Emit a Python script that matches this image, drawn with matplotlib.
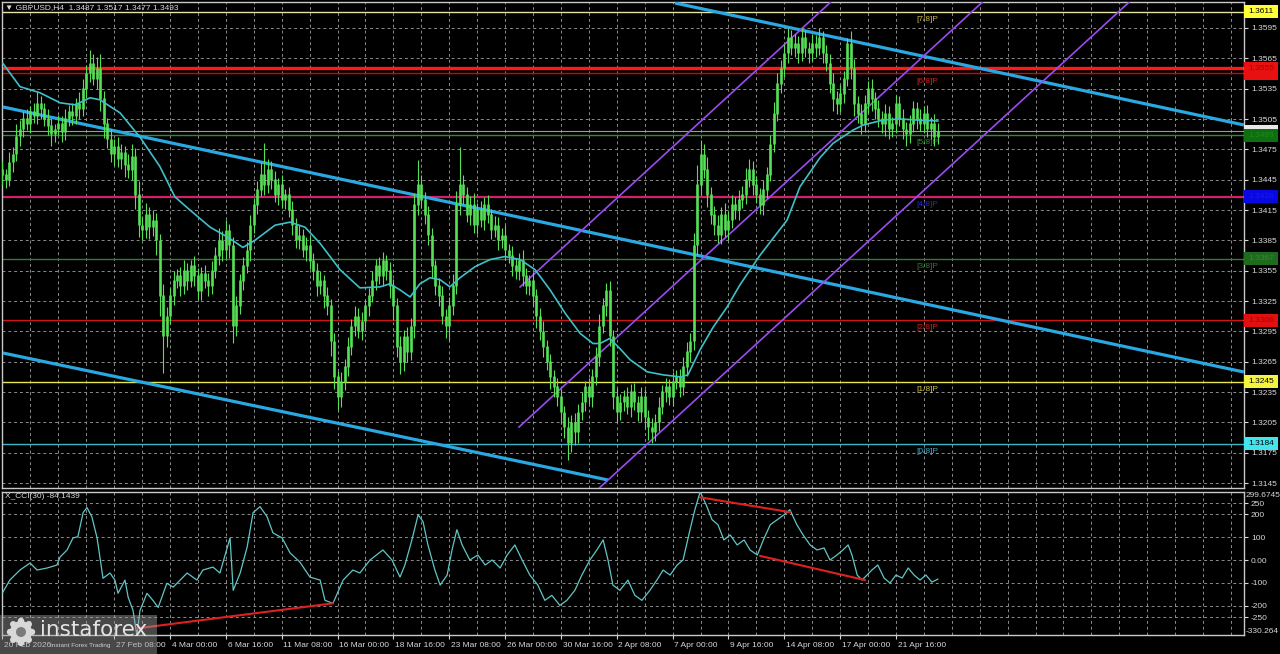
import matplotlib
matplotlib.use('Agg')
import math
import matplotlib.pyplot as plt
import matplotlib.transforms as mtransforms
from matplotlib.patches import Rectangle, Circle

FONT = ['Liberation Sans', 'DejaVu Sans']
plt.rcParams['font.family'] = FONT

# ---------------- data (prices in pips: 3493 -> 1.3493) ----------------
symbol_title = "\u25bc GBPUSD,H4  1.3487 1.3517 1.3477 1.3493"
cci_title = "X_CCI(30) -84.1439"

first_open = 3455
closes = [3450, 3445, 3462,
          3470, 3488, 3495, 3505, 3500,
          3512, 3508, 3520, 3515,
          3505, 3498, 3490, 3495, 3500, 3492,
          3505, 3512, 3508, 3520, 3515,
          3535, 3550, 3560, 3545, 3555,
          3525, 3500, 3485,
          3470, 3478, 3465, 3472, 3460, 3455, 3468,
          3430, 3400, 3395,
          3410, 3398, 3405, 3385,
          3330, 3290, 3310,
          3330, 3345, 3350, 3340, 3355,
          3345, 3360, 3350, 3335, 3352, 3345, 3340, 3355,
          3370, 3385, 3375, 3395, 3380,
          3300, 3320, 3345,
          3360, 3375, 3400,
          3420, 3435, 3450, 3440, 3455, 3445, 3430, 3440, 3425, 3430, 3415,
          3400, 3385, 3390, 3375, 3380, 3365,
          3355, 3340, 3345, 3330, 3320,
          3285, 3250, 3230, 3245, 3260, 3280,
          3300, 3310, 3295, 3305, 3320, 3330,
          3345, 3360, 3350, 3365, 3355, 3340, 3320,
          3280, 3265, 3290, 3275, 3300,
          3420, 3440, 3425, 3410, 3390,
          3360, 3340, 3330, 3310, 3300, 3320, 3340,
          3420, 3440, 3430, 3410, 3420,
          3400, 3415, 3405, 3420, 3410, 3395, 3400, 3385, 3390,
          3375, 3370, 3360, 3355, 3365, 3350, 3340, 3345, 3330,
          3310, 3295, 3280, 3265, 3250, 3240, 3230,
          3215, 3200, 3185, 3205, 3195, 3215, 3225,
          3240, 3230, 3250, 3270, 3300, 3320,
          3335, 3290, 3230, 3215,
          3225, 3230, 3220, 3235, 3225, 3215, 3230,
          3210, 3200, 3195, 3205, 3220,
          3235, 3240, 3230, 3245, 3250, 3240,
          3260, 3275, 3285, 3380,
          3440, 3470, 3455, 3430, 3410,
          3400, 3390, 3410, 3395, 3405, 3420, 3415, 3425, 3430,
          3445, 3455, 3440, 3430, 3420, 3435,
          3450, 3480, 3510, 3540,
          3555, 3570, 3585, 3575,
          3580, 3570, 3585, 3575, 3570, 3580, 3575, 3585, 3570, 3560,
          3540, 3525, 3520, 3530, 3545,
          3580, 3555, 3520,
          3510, 3500, 3520, 3535, 3525, 3515, 3505, 3500,
          3510, 3495, 3500, 3520, 3505, 3495, 3490, 3500, 3515, 3505,
          3500, 3510, 3495, 3500, 3487, 3493]

wick_up = [8, 6, 10, 7, 12, 9, 8, 10, 6, 9,
           12, 8, 6, 10, 7, 5, 9, 8, 10, 7,
           9, 6, 12, 10, 8, 13, 9, 11, 14, 8,
           6, 10, 7, 9, 8, 6, 10, 12, 8, 14,
           9, 12, 8, 10, 7, 6, 12, 9, 8, 10,
           7, 9, 11, 8, 6, 10, 8, 7, 9, 8,
           10, 8, 12, 9, 10, 6, 8, 10, 7, 9,
           8, 10, 7, 9, 12, 31, 10, 8, 9, 7,
           10, 6, 8, 9, 7, 10, 6, 8, 9, 7,
           8, 10, 6, 9, 7, 8, 6, 10, 8, 9,
           7, 10, 8, 9, 6, 8, 10, 7, 9, 8,
           6, 9, 7, 8, 10, 6, 9, 8, 12, 24,
           10, 8, 9, 7, 6, 8, 10, 7, 9, 12,
           14, 37, 10, 8, 9, 12, 7, 9, 8, 10,
           6, 9, 8, 7, 10, 6, 9, 8, 7, 10,
           8, 6, 9, 7, 8, 10, 6, 8, 7, 9,
           8, 6, 10, 7, 9, 8, 10, 6, 9, 8,
           10, 12, 8, 8, 10, 6, 9, 8, 7, 10,
           8, 9, 6, 10, 8, 7, 9, 8, 10, 7,
           9, 8, 10, 7, 8, 10, 9, 8, 12, 20,
           14, 10, 12, 8, 9, 10, 8, 12, 9, 10,
           8, 10, 9, 12, 10, 8, 9, 7, 10, 8,
           9, 12, 10, 8, 9, 10, 8, 9, 7, 10,
           8, 6, 9, 8, 10, 7, 8, 9, 10, 8,
           9, 7, 5, 12, 9, 8, 10, 9, 8, 10,
           7, 9, 8, 10, 8, 7, 9, 8, 10, 7,
           9, 8, 7, 10, 8, 9, 7, 10, 8]

wick_dn = [10, 8, 6, 9, 7, 10, 8, 6, 9, 7,
           8, 10, 7, 9, 12, 8, 6, 10, 8, 7,
           9, 8, 10, 7, 9, 8, 6, 10, 12, 14,
           9, 8, 10, 7, 9, 12, 8, 10, 14, 12,
           10, 8, 12, 9, 14, 20, 36, 10, 8, 9,
           7, 10, 8, 9, 6, 10, 8, 9, 7, 10,
           8, 7, 9, 10, 8, 12, 17, 10, 8, 9,
           7, 10, 8, 9, 6, 10, 8, 9, 7, 10,
           8, 9, 7, 10, 8, 9, 6, 10, 8, 9,
           10, 8, 12, 9, 14, 12, 13, 10, 8, 9,
           8, 10, 7, 9, 8, 10, 6, 9, 8, 10,
           9, 12, 14, 10, 12, 9, 10, 8, 12, 10,
           8, 9, 10, 12, 9, 10, 8, 12, 14, 9,
           8, 10, 9, 7, 10, 8, 9, 7, 10, 8,
           9, 7, 10, 8, 9, 7, 10, 8, 9, 10,
           8, 9, 10, 12, 9, 10, 8, 12, 10, 9,
           12, 10, 17, 9, 12, 10, 8, 9, 7, 10,
           8, 9, 7, 10, 9, 12, 10, 8, 9, 7,
           10, 8, 9, 10, 12, 12, 10, 8, 9, 7,
           10, 8, 9, 7, 10, 8, 9, 10, 8, 9,
           10, 8, 12, 9, 10, 8, 9, 7, 10, 8,
           9, 10, 8, 9, 7, 10, 8, 9, 10, 8,
           6, 8, 7, 9, 8, 10, 7, 9, 10, 8,
           9, 10, 8, 9, 7, 10, 8, 9, 12, 10,
           8, 9, 7, 10, 12, 9, 10, 8, 9, 12,
           10, 8, 9, 12, 10, 8, 9, 7, 10, 12,
           9, 8, 10, 7, 9, 8, 10, 9, 7]

# moving average (bar index, value in pips)
ma_bars = [0.1, 5, 10.7, 16.5, 20.8, 25.1, 27.9, 33.7, 39.4, 45.1, 49.4, 53.7, 59.5,
           64.6, 68.9, 72.3, 78.1, 82.4, 86.7, 91, 96.7, 102.4, 108.2, 111, 113.9,
           116.8, 119.6, 122.5, 125.4, 128.2, 131.1, 135.4, 139.7, 144, 148.3, 152.6,
           156.9, 161.2, 165.5, 169.2, 171.2, 174, 176.9, 179.8, 184.7, 189.3, 194.2,
           196.4, 199.9, 203.6, 207.6, 211.3, 217, 224.8, 228.5, 234.3, 238, 243.7,
           246.6, 252.3, 257.2, 262, 268]
ma_vals = [3560, 3537, 3531, 3521, 3519, 3526, 3524, 3511, 3487, 3458, 3428, 3415, 3398,
           3388, 3378, 3385, 3400, 3403, 3398, 3382, 3356, 3338, 3339, 3342, 3336,
           3329, 3342, 3348, 3346, 3339, 3348, 3359, 3366, 3369, 3366, 3356,
           3336, 3313, 3293, 3283, 3283, 3288, 3278, 3267, 3255, 3252, 3250,
           3252, 3277, 3299, 3319, 3341, 3370, 3405, 3438, 3467, 3481, 3494,
           3499, 3504, 3505, 3504, 3503]

# CCI(30) (bar index, value)
cci_bars = [0.1, 2.1, 5, 7.9, 9.9, 12.8, 15.6, 16.5, 18.5, 20.2, 21.6, 23.1, 24.2, 25.6,
            27.1, 28.8, 30.8, 32.2, 33.1, 35.1, 36, 37.4, 38.5, 39.4, 41.4, 43.1, 44.6,
            47.1, 48.9, 50.9, 52.9, 55.7, 57.4, 60.3, 62.3, 65.2, 66.1, 68.1, 70.1, 71.8,
            73.8, 75.8, 77.5, 80.1, 82.4, 85.2, 88.1, 91, 92.4, 94.7, 97.6, 100.4, 102.4,
            105.3, 109, 111.6, 113.9, 115.3, 117.3, 119.1, 120.5, 121.9, 123.9, 125.4,
            127.4, 128.8, 130.2, 131.7, 133.9, 136.2, 138.3, 140.3, 142.6, 144.6, 146.8,
            148.9, 151.1, 153.4, 155.4, 157.4, 159.7, 161.7, 164, 166, 168.3, 170.3, 172.1,
            173.5, 174.9, 176.9, 179.2, 181.2, 183.2, 185.5, 187.5, 189.3, 191.3, 193.3,
            195, 197, 198.4, 199.9, 201.6, 203.3, 205, 206.7, 208.5, 210.5, 212.5, 214.2,
            216.3, 218, 220, 222, 224, 225.6, 227.6, 229.4, 231.4, 233.4, 235.4, 237.1,
            239.1, 240.8, 242.3, 243.4, 244.9, 246.3, 247.7, 249.1, 250.8, 252.6, 254.3,
            256, 257.8, 259.5, 261.2, 262.9, 264.6, 266.3, 268]
cci_vals = [-141, -88, -44, -13, -44, -35, -22, 13, 44, 97, 102, 208, 230, 190,
            97, -80, -57, -88, -146, -88, -163, -221, -330, -221, -146, -177, -208,
            -102, -119, -88, -57, -88, -44, -31, -57, 97, -133, -57, 57, 208,
            234, 190, 119, 97, 31, -9, -75, -88, -177, -190, -88, -44, -57,
            0, 44, 0, -75, -22, 88, 199, 168, 66, -44, -110,
            -66, 44, 133, 66, 0, 22, -22, 0, -35, 22, 66,
            0, -66, -110, -177, -155, -199, -177, -133, -66, 0, 44, 88,
            0, -110, -133, -88, -155, -177, -133, -88, -44, -66, -22,
            0, 133, 221, 299, 243, 177, 155, 88, 110, 66, 88, 44,
            22, 88, 155, 177, 199, 221, 155, 110, 66, 44, 53, 0,
            22, 44, 66, 22, -66, -88, -66, -44, -22, -79, -101,
            -66, -79, -35, -66, -88, -66, -97, -84]

# Murray math levels
murray_names = ["[0/8]P", "[1/8]P", "[2/8]P", "[3/8]P", "[4/8]P", "[5/8]P", "[6/8]P", "[7/8]P"]
murray_vals = [3184, 3245, 3306, 3367, 3428, 3489, 3550, 3611]
murray_line_colors = ['#3fb6c6', '#e6e650', '#d01414', '#2e7d2e', '#d0206a', '#2e8b2e', '#e00000', '#e4e4a8']
murray_text_colors = ['#3fa8c0', '#d4c448', '#c82020', '#2a7a2a', '#2424e0', '#2e8b2e', '#d42020', '#c8b450']
murray_box_colors = ['#44e4ec', '#f4f440', '#e01010', '#1e6b1e', '#0808e0', '#0f6e0f', '#e81010', '#ffff33']
murray_box_text = ['#000000', '#000000', '#b00000', '#2e8b2e', '#1818ff', '#1d8a1d', '#b00000', '#000000']
resistance_level = 3555
bid_level = 3493

# price axis ticks
price_ticks = [3145, 3175, 3205, 3235, 3265, 3295, 3325, 3355, 3385, 3415, 3445, 3475,
               3505, 3535, 3565, 3595]
cci_ticks = [250, 200, 100, 0, -100, -200, -250]
cci_tick_labels = ['250', '200', '100', '0.00', '-100', '-200', '-250']
cci_max, cci_min = 299.6745, -330.264

# time axis
time_label_bars = [0, 32, 48, 64, 80, 96, 112, 128, 144, 160, 176, 192, 208, 224, 240, 256]
time_labels = ["20 Feb 2026", "27 Feb 08:00", "4 Mar 00:00", "6 Mar 16:00", "11 Mar 08:00",
               "16 Mar 00:00", "18 Mar 16:00", "23 Mar 08:00", "26 Mar 00:00", "30 Mar 16:00",
               "2 Apr 08:00", "7 Apr 00:00", "9 Apr 16:00", "14 Apr 08:00", "17 Apr 00:00",
               "21 Apr 16:00"]

# drawn trend lines: (bar0, pips0, bar1, pips1)
blue_lines = [(192.7, 3619.7, 355.7, 3499.1),
              (0.14, 3516.9, 355.7, 3254.8),
              (0.14, 3273.6, 173.5, 3148.0)]
purple_lines = [(148.3, 3338.9, 356, 3996.3),
                (148.0, 3200.4, 356, 3858.7),
                (148.0, 3067.3, 356, 3725.6)]
cci_red_lines = [(38.5, -300, 94.7, -190),
                 (199.9, 275, 225.6, 210),
                 (217.1, 18, 247.1, -88)]

# ---------------- figure ----------------
W, H = 1280, 654
BG = 'black'
FG = '#d8d8d8'
GRID = '#8c8c8c'
GREEN = '#55e055'


def P(v):
    return 1 + v / 10000.0


fig = plt.figure(figsize=(12.8, 6.54), dpi=100, facecolor=BG)


def fx(x):
    return x / W


def fy(y):
    return 1 - y / H


ax = fig.add_axes([fx(2), fy(488), (1244 - 2) / W, (488 - 2) / H], facecolor=BG)
axc = fig.add_axes([fx(2), fy(635.3), (1244 - 2) / W, (635.3 - 491.7) / H], facecolor=BG)

xlim = (-0.143, 355.73)
for a in (ax, axc):
    a.set_xlim(*xlim)
    for s in a.spines.values():
        s.set_color('#c8c8c8')
        s.set_linewidth(1.0)
    a.tick_params(axis='y', which='both', left=False, right=True, labelleft=False,
                  labelright=True, colors=FG, labelsize=6, length=3, width=0.8, pad=2)
    for k in range(0, 360, 8):
        a.axvline(k, color=GRID, lw=0.7, ls=(0, (3, 3)), zorder=0)

ax.set_ylim(P(3140.1), P(3620.7))
axc.set_ylim(cci_min, cci_max)

# price grid + ticks
ax.set_yticks([P(v) for v in price_ticks])
ax.set_yticklabels(["%.4f" % P(v) for v in price_ticks])
for v in price_ticks:
    ax.axhline(P(v), color=GRID, lw=0.7, ls=(0, (3, 3)), zorder=0)
ax.set_xticks([])

# murray lines
for v, c in zip(murray_vals, murray_line_colors):
    lw = 1.0
    if c == '#d0206a':
        lw = 1.6
    ax.axhline(P(v), color=c, lw=lw, zorder=1)
ax.axhline(P(resistance_level), color='#ff1a1a', lw=2.4, zorder=1)
ax.axhline(P(bid_level), color='#9a9a9a', lw=0.8, zorder=1)

# murray labels
off = mtransforms.offset_copy(ax.transData, fig=fig, x=0, y=-3, units='points')
for n, v, c in zip(murray_names, murray_vals, murray_text_colors):
    ax.text(265, P(v), n, color=c, fontsize=6, ha='center', va='top', transform=off, zorder=2)

# trend lines
for b0, p0, b1, p1 in blue_lines:
    ax.plot([b0, b1], [P(p0), P(p1)], color='#2aa8e2', lw=2.3, zorder=3, solid_capstyle='butt')
for b0, p0, b1, p1 in purple_lines:
    ax.plot([b0, b1], [P(p0), P(p1)], color='#9b4cf0', lw=1.2, zorder=3)

# candles
opens = [first_open] + closes[:-1]
xs = list(range(len(closes)))
highs = [max(o, c) + u for o, c, u in zip(opens, closes, wick_up)]
lows = [min(o, c) - d for o, c, d in zip(opens, closes, wick_dn)]
ax.vlines(xs, [P(v) for v in lows], [P(v) for v in highs], color=GREEN, lw=0.8, zorder=4)
btm = [P(min(o, c)) for o, c in zip(opens, closes)]
top = [P(max(o, c) + 0.6) for o, c in zip(opens, closes)]
ax.vlines(xs, btm, top, color=GREEN, lw=1.9, zorder=4)

# moving average
ax.plot(ma_bars, [P(v) for v in ma_vals], color='#3fc0c8', lw=1.2, zorder=5)

# right-hand price boxes
bt = mtransforms.blended_transform_factory(ax.transAxes, ax.transData)
box_w = 34 / 1242
box_h = 13 * (0.04806 / 486)


def price_box(v, bg, tc, show=True):
    ax.add_patch(Rectangle((1.0, P(v) - box_h / 2), box_w, box_h, transform=bt,
                           facecolor=bg, edgecolor='none', clip_on=False, zorder=20))
    if show:
        ax.text(1.0 + 4 / 1242, P(v), "%.4f" % P(v), transform=bt, color=tc, fontsize=6,
                ha='left', va='center', clip_on=False, zorder=21)


for v, bg, tc in zip(murray_vals, murray_box_colors, murray_box_text):
    if v in (3489, 3550):
        continue
    price_box(v, bg, tc)
price_box(3550, '#e81010', '#b00000', show=False)
price_box(resistance_level, '#e81010', '#b00000')
price_box(bid_level, '#e8e8e8', '#000000', show=False)
price_box(3489, '#0f6e0f', '#1d8a1d')

# CCI panel
axc.set_yticks(cci_ticks)
axc.set_yticklabels(cci_tick_labels)
for v in cci_ticks:
    axc.axhline(v, color=GRID, lw=0.7, ls=(0, (3, 3)), zorder=0)
axc.plot(cci_bars, cci_vals, color='#62c6c6', lw=0.9, zorder=3)
for b0, v0, b1, v1 in cci_red_lines:
    axc.plot([b0, b1], [v0, v1], color='#e02020', lw=1.5, zorder=4)
ct = mtransforms.blended_transform_factory(axc.transAxes, axc.transData)
axc.text(1.0 + 2 / 1242, cci_max, "%.4f" % cci_max, transform=ct, color=FG, fontsize=6,
         ha='left', va='top', clip_on=False)
axc.text(1.0 + 2 / 1242, cci_min, "%.3f" % cci_min, transform=ct, color=FG, fontsize=6,
         ha='left', va='bottom', clip_on=False)

# time axis
axc.set_xticks(time_label_bars)
axc.set_xticklabels([])
axc.tick_params(axis='x', colors=FG, length=3, width=0.8, direction='out')
tt = mtransforms.blended_transform_factory(axc.transData, axc.transAxes)
for b, lab in zip(time_label_bars, time_labels):
    axc.text(b + 0.5, -0.068, lab, transform=tt, color=FG, fontsize=6, ha='left',
             va='center', clip_on=False)

# titles
fig.text(fx(5), fy(8), symbol_title, color=FG, fontsize=6, ha='left', va='center',
         family=FONT)
fig.text(fx(5), fy(497), cci_title, color=FG, fontsize=6, ha='left', va='center')

# watermark logo
fig.patches.append(Rectangle((0, fy(654)), fx(157), fy(615) - fy(654), transform=fig.transFigure,
                             facecolor='#a0a0a0', alpha=0.45, edgecolor='none', zorder=10))
pix = mtransforms.IdentityTransform()
gx, gy = 21, H - 632
for k in range(8):
    ang = k * math.pi / 4
    fig.patches.append(Circle((gx + 11 * math.cos(ang), gy + 11 * math.sin(ang)), 3.2,
                              transform=pix, facecolor='#d8d8d8', edgecolor='none', zorder=11))
fig.patches.append(Circle((gx, gy), 11, transform=pix, facecolor='#d8d8d8',
                          edgecolor='none', zorder=11))
fig.patches.append(Circle((gx, gy), 5, transform=pix, facecolor='#7a7a7a',
                          edgecolor='none', zorder=12))
fig.text(fx(40), fy(630), "instaforex", color='#e4e4e4', fontsize=15.5, ha='left',
         va='center', family=['DejaVu Sans'], zorder=13)
fig.text(fx(50), fy(646), "Instant Forex Trading", color='#cfcfcf', fontsize=4.6,
         ha='left', va='center', zorder=13)

fig.savefig('out.png', dpi=100, facecolor=BG)
